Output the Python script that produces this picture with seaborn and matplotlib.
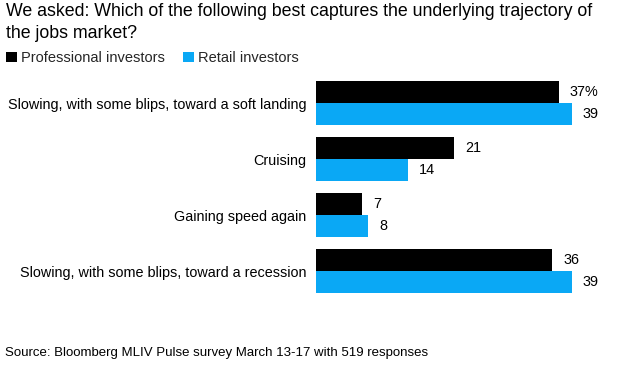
import matplotlib
matplotlib.use("Agg")
import matplotlib.pyplot as plt
import seaborn as sns
import pandas as pd

categories = [
    "Slowing, with some blips, toward a soft landing",
    "Cruising",
    "Gaining speed again",
    "Slowing, with some blips, toward a recession",
]
series_names = ["Professional investors", "Retail investors"]
professional = [37, 21, 7, 36]
retail = [39, 14, 8, 39]
title = "We asked: Which of the following best captures the underlying trajectory of\nthe jobs market?"
source = "Source: Bloomberg MLIV Pulse survey March 13-17 with 519 responses"

df = pd.DataFrame({
    "category": categories * 2,
    "series": [series_names[0]] * len(categories) + [series_names[1]] * len(categories),
    "value": professional + retail,
})

sns.set_theme(style="white")
plt.rcParams["font.family"] = ["Liberation Sans", "DejaVu Sans"]

W, H = 617, 371
fig = plt.figure(figsize=(W / 100, H / 100), dpi=100)
ax_left, ax_right = 316, 600
ax_top, ax_bottom = 75, 299
ax = fig.add_axes([ax_left / W, 1 - ax_bottom / H, (ax_right - ax_left) / W, (ax_bottom - ax_top) / H])

palette = {series_names[0]: "#000000", series_names[1]: "#0aa8f5"}
sns.barplot(data=df, y="category", x="value", hue="series", order=categories,
            hue_order=series_names, palette=palette, orient="h", width=0.8,
            saturation=1, ax=ax, edgecolor="none", linewidth=0)

ax.set_xlim(0, (ax_right - ax_left) / 6.56)
ax.set_ylim(3.5, -0.5)
ax.set_xlabel("")
ax.set_ylabel("")
ax.set_xticks([])
for s in ax.spines.values():
    s.set_visible(False)
ax.tick_params(axis="y", length=0, pad=7, labelsize=10.4, labelcolor="#000000")

# value labels
for i, cont in enumerate(ax.containers):
    vals = professional if i == 0 else retail
    labels = [f"{v}%" if (i == 0 and j == 0) else f"{v}" for j, v in enumerate(vals)]
    ax.bar_label(cont, labels=labels, padding=8, fontsize=10.4, color="#000000")

# legend
sns.move_legend(ax, loc="upper left", bbox_to_anchor=(6 / W, 1 - 51 / H),
                bbox_transform=fig.transFigure, ncol=2, frameon=False, title=None,
                handlelength=0.75, handleheight=0.75, handletextpad=0.3,
                columnspacing=1.2, fontsize=10.5, borderaxespad=0, borderpad=0)

fig.text(6 / W, 1 - 3 / H, title, ha="left", va="top", fontsize=12.8,
         color="#000000", linespacing=1.4)
fig.text(5 / W, 1 - 353 / H, source, ha="left", va="center", fontsize=9.5,
         color="#000000")

fig.savefig("out.png", dpi=100)
